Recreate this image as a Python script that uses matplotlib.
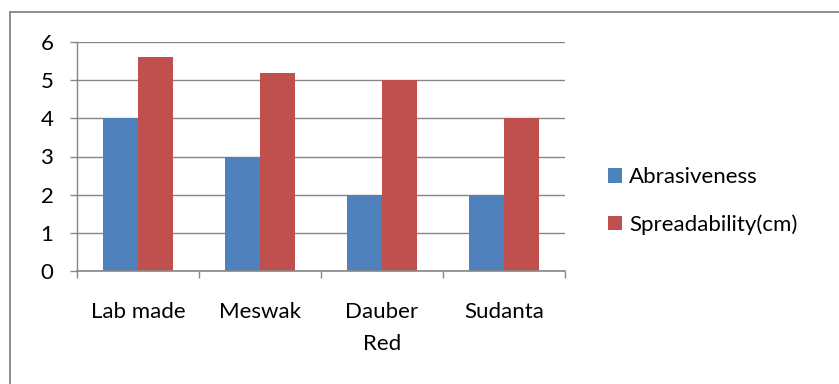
import matplotlib
matplotlib.use("Agg")
import matplotlib.pyplot as plt
import numpy as np
from matplotlib.patches import Patch
from matplotlib.lines import Line2D

categories = ["Lab made", "Meswak", "Dauber\nRed", "Sudanta"]
abrasiveness = [4, 3, 2, 2]
spreadability = [5.6, 5.2, 5.0, 4.0]
series_names = ["Abrasiveness", "Spreadability(cm)"]
yticks = [0, 1, 2, 3, 4, 5, 6]

plt.rcParams['font.family'] = ['Lato', 'DejaVu Sans']
blue = "#4F81BD"
red = "#C0504D"
grid = "#868686"
fs = 16

W, H = 839, 384
fig = plt.figure(figsize=(W/100, H/100), dpi=100)
ax = fig.add_axes([77/W, 113/H, (565-77)/W, (271-42)/H])

x = np.arange(len(categories))
w = 1/3.5
ax.bar(x - w/2, abrasiveness, w, color=blue, zorder=3)
ax.bar(x + w/2, spreadability, w, color=red, zorder=3)

ax.set_xlim(-0.5, len(categories)-0.5)
ax.set_ylim(0, 6)
ax.set_yticks(yticks)
ax.yaxis.grid(True, color=grid, linewidth=1.0, zorder=0)
for s in ['top', 'right', 'bottom']:
    ax.spines[s].set_visible(False)
ax.spines['left'].set_color(grid)
ax.spines['left'].set_linewidth(1.0)
ax.axhline(0, color=grid, linewidth=1.2, zorder=4, clip_on=False)

ax.set_xticks(np.arange(len(categories)+1) - 0.5, minor=False)
ax.set_xticklabels([])
ax.tick_params(axis='x', length=5, color=grid, width=1.0, direction='out')
ax.set_xticks(x, minor=True)
ax.set_xticklabels(categories, minor=True, fontsize=fs, linespacing=1.75, va='top')
ax.tick_params(axis='x', which='minor', length=0, pad=22)
ax.tick_params(axis='y', length=5, color=grid, width=1.0, labelsize=fs, pad=12)

handles = [Patch(facecolor=blue), Patch(facecolor=red)]
fig.legend(handles, series_names, loc='center left', bbox_to_anchor=(608/W, 1-201/H),
           frameon=False, fontsize=fs, handlelength=0.62, handleheight=0.62,
           handletextpad=0.32, labelspacing=1.2, borderpad=0, borderaxespad=0)

fig.add_artist(Line2D([9.5/W, 9.5/W], [0, 1-12/H], transform=fig.transFigure, color=grid, linewidth=1.3))
fig.add_artist(Line2D([9.5/W, 1], [1-12/H, 1-12/H], transform=fig.transFigure, color=grid, linewidth=1.3))

fig.savefig("out.png", dpi=100)
